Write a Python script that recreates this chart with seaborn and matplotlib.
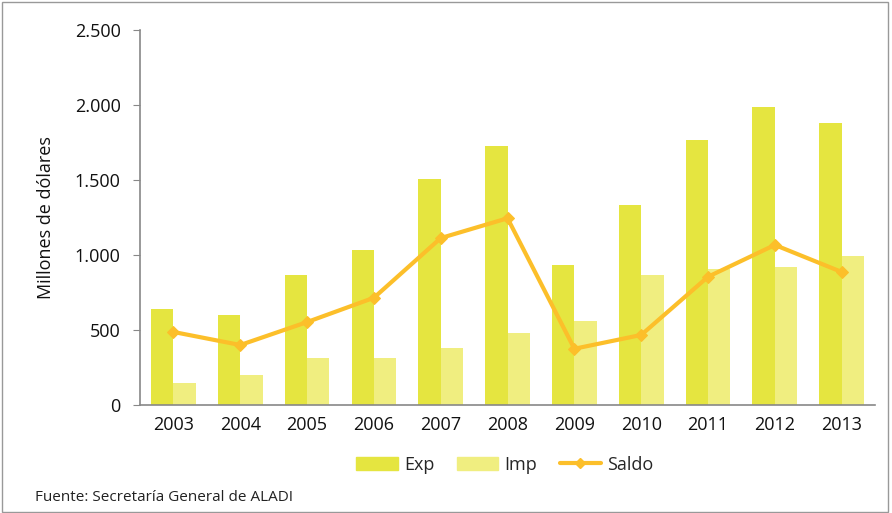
import matplotlib
matplotlib.use("Agg")
import matplotlib.pyplot as plt
import matplotlib.ticker as mticker
from matplotlib.patches import Rectangle
from matplotlib.lines import Line2D
import seaborn as sns
import pandas as pd
import numpy as np

sns.set_style("white")
plt.rcParams['font.family'] = ['Open Sans', 'DejaVu Sans']

# data (millones de dolares)
years = ["2003", "2004", "2005", "2006", "2007", "2008", "2009", "2010", "2011", "2012", "2013"]
exp_vals = [640, 600, 870, 1035, 1505, 1725, 935, 1335, 1765, 1990, 1880]
imp_vals = [150, 200, 315, 315, 380, 480, 560, 865, 910, 920, 995]
saldo_vals = [487, 400, 553, 715, 1113, 1245, 375, 467, 855, 1067, 887]

c_exp = "#E5E540"
c_imp = "#F0EE80"
c_saldo = "#FCBF2A"

df = pd.DataFrame({"year": years * 2,
                   "valor": exp_vals + imp_vals,
                   "serie": ["Exp"] * len(years) + ["Imp"] * len(years)})

fig = plt.figure(figsize=(8.92, 5.13), dpi=100)
ax = fig.add_axes([0.157, 0.2105, 0.824, 0.731])

sns.barplot(data=df, x="year", y="valor", hue="serie", order=years,
            palette={"Exp": c_exp, "Imp": c_imp}, width=0.67, gap=0,
            saturation=1, linewidth=0, ax=ax, legend=False)
sns.lineplot(x=np.arange(len(years)), y=saldo_vals, color=c_saldo, lw=3,
             marker="D", markersize=6, markeredgecolor=c_saldo, ax=ax)

ax.set_xlim(-0.5, len(years) - 0.5)
ax.set_ylim(0, 2500)
ax.yaxis.set_major_locator(mticker.MultipleLocator(500))
ax.yaxis.set_major_formatter(mticker.FuncFormatter(lambda v, p: f"{int(v):,}".replace(",", ".")))
ax.set_xlabel("")
ax.set_ylabel("Millones de dólares", fontsize=13, color="#111111", labelpad=14)

# tick marks between categories
ax.set_xticks(np.arange(-0.5, len(years)), minor=True)
ax.tick_params(axis="x", which="major", length=0, labelsize=13, pad=8, colors="#111111")
ax.tick_params(axis="x", which="minor", length=6, color="#888888", width=1)
ax.tick_params(axis="y", which="major", length=5, color="#888888", labelsize=13, pad=9,
               colors="#111111", left=True)
for s in ["top", "right"]:
    ax.spines[s].set_visible(False)
for s in ["left", "bottom"]:
    ax.spines[s].set_color("#888888")
    ax.spines[s].set_linewidth(1.2)

handles = [Rectangle((0, 0), 1, 1, color=c_exp),
           Rectangle((0, 0), 1, 1, color=c_imp),
           Line2D([0], [0], color=c_saldo, lw=3, marker="D", markersize=5)]
fig.legend(handles, ["Exp", "Imp", "Saldo"], loc="center", bbox_to_anchor=(0.566, 0.094),
           ncol=3, frameon=False, fontsize=13, handlelength=2.3, columnspacing=1.25,
           handletextpad=0.33)

fig.text(0.039, 0.031, "Fuente: Secretaría General de ALADI", fontsize=11, color="#222222",
         va="center")

fig.patches.append(Rectangle((0.002, 0.002), 0.994, 0.994, transform=fig.transFigure,
                             fill=False, edgecolor="#999999", lw=1))

fig.savefig("out.png", dpi=100)
